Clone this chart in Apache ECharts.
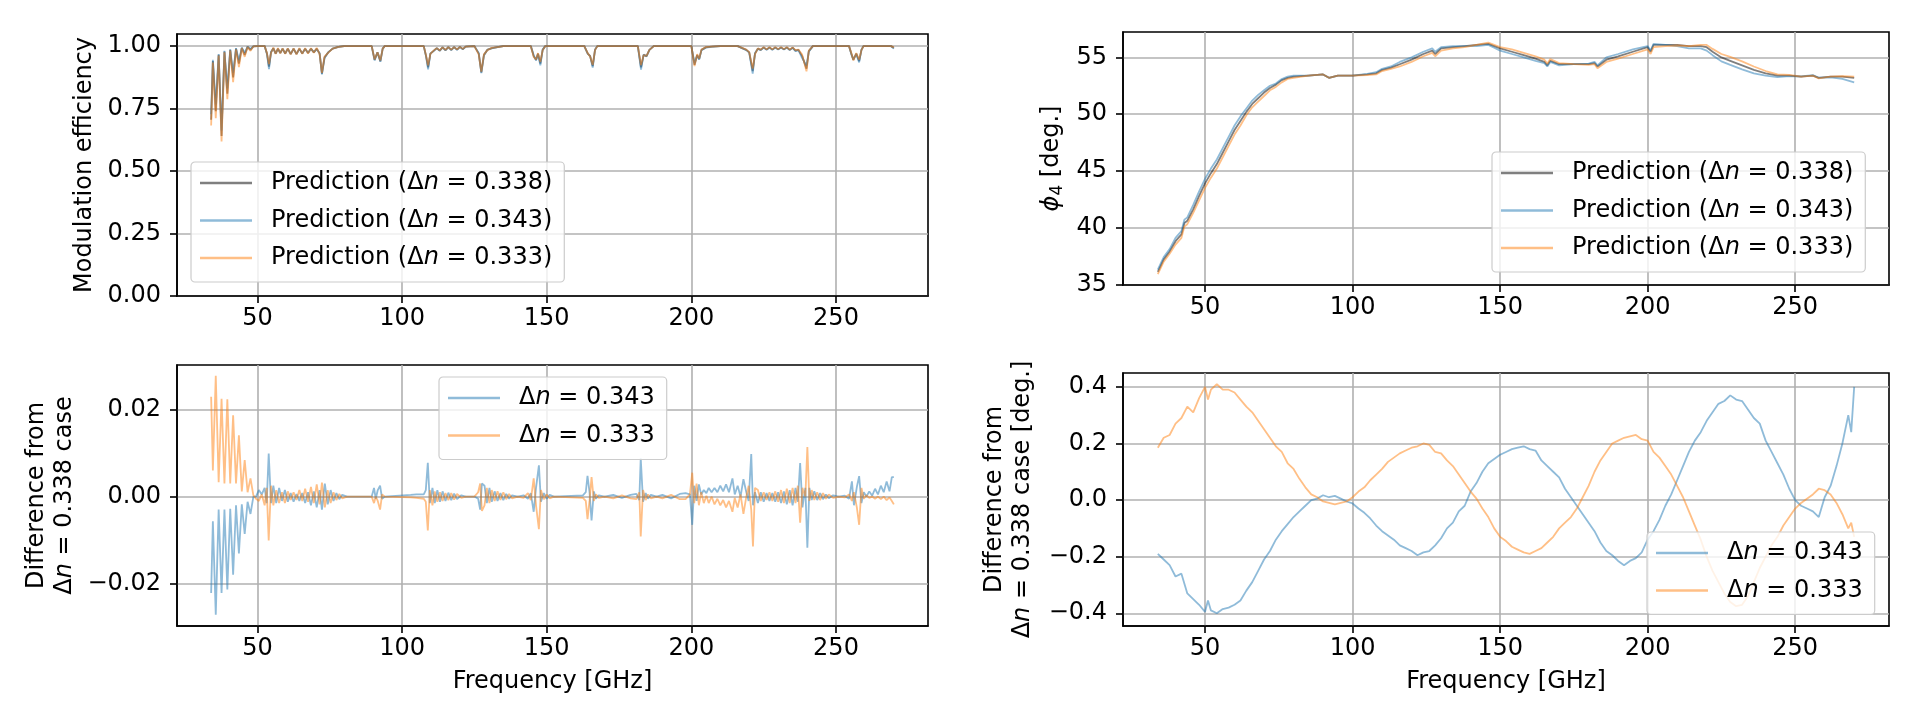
<!DOCTYPE html>
<html>
<head>
<meta charset="utf-8">
<script src="https://cdn.jsdelivr.net/npm/echarts@6/dist/echarts.min.js"></script>
<style>html,body{margin:0;padding:0;background:#fff}#chart{width:1921px;height:721px}</style>
</head>
<body>
<div id="chart"></div>
<script>
// modulation efficiency, top left
const tlFreq = [
  34, 34.6, 35.6, 36.6, 37.6, 38.6, 39.6, 40.6, 41.6, 42.6,
  43.6, 44.6, 45.6, 46.6, 47.6, 48.6, 50, 52.5, 53.3, 54,
  54.7, 55.5, 56.3, 57.1, 57.9, 58.7, 59.6, 60.5, 61.5, 62.5,
  63.5, 64.5, 65.5, 66.5, 67.5, 68.5, 69.5, 70.5, 71.5, 72.3,
  73.2, 74.5, 76, 78, 80, 89.5, 90.5, 91.5, 92.5, 93.3,
  94, 107.5, 108.3, 109, 109.8, 110.8, 112, 113, 114, 115,
  116, 117, 118, 119, 120, 121, 122, 125, 126.5, 127.4,
  128.3, 129.5, 131, 133, 135, 144.5, 145.5, 146.3, 147, 147.8,
  148.6, 149.5, 163, 164.2, 165, 165.9, 166.7, 167.5, 181.5, 182.6,
  183.5, 184.5, 185.5, 187, 200, 201.1, 202, 202.7, 203.5, 205,
  207, 210, 216, 218, 219, 220, 221.2, 222, 223, 224,
  225, 226, 227, 228, 229, 230, 231, 232, 233, 234,
  235, 236, 237, 238.3, 239.8, 240.6, 242, 254.5, 255.3, 256,
  257, 258, 258.8, 259.5, 269, 270
];
const tlEff338 = [
  0.705, 0.94, 0.74, 0.965, 0.64, 0.978, 0.81, 0.985, 0.875, 0.99,
  0.93, 0.993, 0.965, 0.997, 0.985, 0.999, 1, 1, 0.97, 0.918,
  0.975, 0.992, 0.97, 0.99, 0.972, 0.99, 0.97, 0.99, 0.968, 0.99,
  0.968, 0.99, 0.97, 0.99, 0.972, 0.99, 0.975, 0.99, 0.97, 0.89,
  0.955, 0.975, 0.99, 0.997, 1, 1, 0.945, 0.975, 0.94, 0.99,
  1, 1, 0.96, 0.915, 0.97, 0.98, 0.992, 0.982, 0.995, 0.984,
  0.996, 0.985, 0.996, 0.986, 0.997, 0.988, 0.998, 1, 0.97, 0.895,
  0.965, 0.985, 0.992, 0.996, 1, 1, 0.96, 0.945, 0.97, 0.93,
  0.985, 1, 1, 0.97, 0.96, 0.92, 0.985, 1, 1, 0.915,
  0.965, 0.96, 0.985, 1, 1, 0.925, 0.965, 0.948, 0.985, 0.995,
  0.998, 1, 1, 0.99, 0.985, 0.975, 0.9, 0.97, 0.99, 0.985,
  0.995, 0.986, 0.995, 0.986, 0.995, 0.987, 0.995, 0.987, 0.995, 0.985,
  0.994, 0.982, 0.985, 0.96, 0.91, 0.98, 1, 1, 0.97, 0.945,
  0.97, 0.94, 0.985, 1, 1, 0.993
];
const tlEff343 = [
  0.727, 0.945, 0.767, 0.968, 0.662, 0.981, 0.831, 0.987, 0.893, 0.992,
  0.943, 0.994, 0.974, 0.998, 0.989, 0.999, 1, 1, 0.968, 0.908,
  0.977, 0.99, 0.971, 0.988, 0.973, 0.989, 0.971, 0.989, 0.969, 0.989,
  0.969, 0.988, 0.971, 0.988, 0.974, 0.988, 0.977, 0.987, 0.972, 0.887,
  0.952, 0.976, 0.99, 0.997, 1, 1, 0.943, 0.975, 0.937, 0.99,
  1, 1, 0.958, 0.907, 0.971, 0.979, 0.992, 0.981, 0.995, 0.983,
  0.996, 0.984, 0.996, 0.985, 0.997, 0.987, 0.998, 1, 0.973, 0.892,
  0.962, 0.986, 0.991, 0.996, 1, 1, 0.964, 0.943, 0.968, 0.923,
  0.986, 1, 1, 0.969, 0.961, 0.914, 0.986, 1, 1, 0.906,
  0.966, 0.959, 0.985, 1, 1, 0.932, 0.962, 0.946, 0.984, 0.994,
  0.997, 1, 1, 0.989, 0.984, 0.974, 0.89, 0.972, 0.989, 0.984,
  0.994, 0.985, 0.994, 0.985, 0.994, 0.986, 0.994, 0.986, 0.994, 0.984,
  0.993, 0.98, 0.984, 0.952, 0.922, 0.978, 1, 1, 0.967, 0.947,
  0.968, 0.935, 0.986, 1, 1, 0.99
];
const tlEff333 = [
  0.682, 0.934, 0.712, 0.962, 0.618, 0.975, 0.788, 0.982, 0.856, 0.987,
  0.916, 0.992, 0.957, 0.996, 0.981, 0.999, 1, 1, 0.972, 0.928,
  0.973, 0.994, 0.969, 0.992, 0.971, 0.991, 0.969, 0.991, 0.967, 0.991,
  0.967, 0.992, 0.969, 0.992, 0.97, 0.992, 0.973, 0.993, 0.968, 0.893,
  0.958, 0.974, 0.99, 0.997, 1, 1, 0.947, 0.975, 0.943, 0.99,
  1, 1, 0.962, 0.923, 0.969, 0.981, 0.992, 0.983, 0.995, 0.985,
  0.996, 0.986, 0.996, 0.987, 0.997, 0.989, 0.998, 1, 0.967, 0.898,
  0.967, 0.984, 0.993, 0.996, 1, 1, 0.956, 0.947, 0.972, 0.937,
  0.984, 1, 1, 0.971, 0.959, 0.925, 0.984, 1, 1, 0.924,
  0.964, 0.961, 0.985, 1, 1, 0.92, 0.968, 0.95, 0.986, 0.996,
  0.998, 1, 1, 0.991, 0.986, 0.976, 0.91, 0.968, 0.991, 0.986,
  0.996, 0.987, 0.996, 0.987, 0.996, 0.988, 0.996, 0.988, 0.996, 0.986,
  0.995, 0.984, 0.986, 0.966, 0.899, 0.982, 1, 1, 0.972, 0.943,
  0.972, 0.946, 0.984, 1, 1, 0.995
];

// phi4, top right
const trFreq = [
  34, 36, 38, 40, 42, 43, 44, 46, 48, 50,
  52, 54, 56, 58, 60, 62, 64, 66, 68, 70,
  72, 74, 76, 78, 80, 85, 90, 92, 95, 100,
  105, 108, 110, 113, 116, 120, 124, 127, 128, 130,
  134, 138, 142, 146, 148, 150, 154, 158, 162, 165,
  166, 167, 170, 175, 180, 182, 183, 186, 190, 195,
  200, 201, 202, 206, 210, 214, 218, 220, 222, 225,
  228, 232, 236, 240, 244, 248, 252, 256, 258, 262,
  266, 270
];
const trPhi338 = [
  36.1, 37.2, 37.9, 38.8, 39.4, 40.4, 40.6, 41.6, 42.8, 43.9,
  44.8, 45.6, 46.6, 47.6, 48.6, 49.4, 50.2, 50.9, 51.4, 51.9,
  52.3, 52.6, 53.0, 53.2, 53.3, 53.4, 53.5, 53.2, 53.4, 53.4,
  53.5, 53.6, 53.9, 54.1, 54.4, 54.8, 55.3, 55.6, 55.3, 55.8,
  55.9, 56.0, 56.1, 56.2, 56.0, 55.8, 55.5, 55.2, 54.9, 54.6,
  54.3, 54.7, 54.4, 54.4, 54.4, 54.5, 54.2, 54.8, 55.1, 55.5,
  55.9, 55.5, 56.1, 56.1, 56.1, 56.0, 56.0, 55.9, 55.5, 55.0,
  54.7, 54.3, 53.9, 53.6, 53.4, 53.4, 53.3, 53.4, 53.2, 53.3,
  53.3, 53.2
];
const trPhi343 = [
  36.3, 37.4, 38.1, 39.1, 39.7, 40.7, 40.9, 42.0, 43.2, 44.3,
  45.2, 46.0, 47.0, 48.0, 49.0, 49.8, 50.5, 51.2, 51.7, 52.1,
  52.5, 52.7, 53.1, 53.3, 53.4, 53.4, 53.5, 53.2, 53.4, 53.4,
  53.55, 53.7, 54.0, 54.2, 54.6, 55.0, 55.5, 55.8, 55.5, 55.9,
  56.0, 56.0, 56.0, 56.1, 55.85, 55.6, 55.3, 55.0, 54.7, 54.5,
  54.2, 54.6, 54.3, 54.4, 54.45, 54.6, 54.3, 55.0, 55.3, 55.7,
  56.0, 55.6, 56.2, 56.1, 56.0, 55.8, 55.8, 55.6, 55.2, 54.65,
  54.34, 53.95, 53.6, 53.4, 53.27, 53.36, 53.32, 53.44, 53.21, 53.24,
  53.1, 52.8
];
const trPhi333 = [
  35.9, 37.0, 37.7, 38.5, 39.1, 40.1, 40.3, 41.3, 42.4, 43.5,
  44.4, 45.2, 46.2, 47.2, 48.2, 49.0, 49.9, 50.6, 51.1, 51.6,
  52.1, 52.4, 52.8, 53.1, 53.2, 53.4, 53.5, 53.2, 53.4, 53.4,
  53.45, 53.5, 53.8, 54.0, 54.2, 54.6, 55.1, 55.4, 55.1, 55.6,
  55.8, 55.9, 56.1, 56.3, 56.1, 55.9, 55.7, 55.4, 55.1, 54.8,
  54.45, 54.85, 54.5, 54.4, 54.35, 54.4, 54.05, 54.6, 54.9, 55.3,
  55.7, 55.3, 55.9, 56.0, 56.05, 56.0, 56.1, 56.1, 55.75, 55.3,
  55.05, 54.65, 54.2, 53.8, 53.5, 53.45, 53.3, 53.4, 53.15, 53.3,
  53.35, 53.3
];

// efficiency difference, bottom left
const blFreq = [
  34, 34.6, 35.6, 36.6, 37.6, 38.6, 39.6, 40.6, 41.6, 42.6,
  43.6, 44.6, 45.6, 46.6, 47.6, 48.6, 49.5, 50.5, 51.5, 52.5,
  53.2, 53.9, 54.7, 55.5, 56.5, 57.5, 58.5, 59.5, 60.5, 61.5,
  62.5, 63.5, 64.5, 65.5, 66.5, 67.5, 68.5, 69.5, 70.5, 71.5,
  72.3, 73.3, 74.3, 75.3, 76.3, 77.3, 78.3, 79.3, 81, 89.5,
  90.3, 90.9, 91.6, 92.4, 93.1, 94, 103, 105, 107.5, 108.2,
  108.9, 109.6, 110.5, 111.3, 112.2, 113.1, 114, 115, 116, 117,
  118, 119, 120.5, 122, 125, 126.3, 127, 127.6, 128.5, 129.3,
  130.2, 131, 132, 133, 134, 135, 136, 137, 138, 140,
  142, 143.5, 144.5, 145.5, 146.3, 147.3, 148, 149, 150, 151,
  152.5, 162.5, 163.5, 164.1, 164.8, 165.5, 166.3, 167, 168, 170,
  173, 176, 179, 181, 182, 182.5, 183.3, 184.2, 185, 186,
  188, 190, 193, 196, 198, 199.5, 200.3, 201, 201.8, 202.6,
  203.4, 204.3, 205.2, 206, 207, 208, 209, 210, 211, 212,
  213, 214.2, 215, 216, 217, 218, 219, 219.8, 220.7, 221.3,
  222, 223, 224, 225, 226, 227, 228, 229, 230, 231,
  232, 233, 234, 235, 236, 236.8, 237.6, 238.4, 239.4, 240.1,
  240.8, 241.6, 242.5, 243.5, 244.5, 245.5, 246.5, 247.5, 249, 251,
  253, 254.5, 255.5, 256.2, 257.2, 258, 258.8, 259.6, 260.5, 261.5,
  262.5, 263.5, 264.5, 265.5, 266.5, 267.5, 268.5, 269.3, 270
];
const blDiff343 = [
  -0.0222, -0.0057, -0.0272, -0.003, -0.0222, -0.003, -0.0214, -0.0028, -0.018, -0.002,
  -0.0131, -0.0018, -0.0086, -0.0012, -0.004, 0, 0, 0.0015, 0.0005, 0.002,
  -0.0015, 0.0099, -0.0015, 0.0025, -0.0015, 0.002, -0.001, 0.0015, -0.0012, 0.0008,
  -0.0012, 0.0006, -0.001, 0.0008, -0.0015, 0.001, -0.002, 0.0012, -0.0025, 0.0015,
  -0.003, 0.003, -0.0018, 0.0015, -0.001, 0.0008, -0.0006, 0.0004, 0, 0,
  0.002, -0.0005, 0.0015, 0.0025, -0.0005, 0, 0.0004, 0.0005, 0.0005, 0.0015,
  0.0078, -0.0015, 0.002, -0.0015, 0.0015, -0.0012, 0.0012, -0.001, 0.0009, -0.0008,
  0.0007, -0.0006, 0.0003, 0, 0, -0.0005, -0.003, 0.003, 0.0025, -0.0015,
  0.002, -0.0012, 0.0012, -0.001, 0.0008, -0.0008, 0.0006, -0.0005, 0.0003, 0,
  0.0003, -0.0005, 0.0008, -0.0035, 0.002, 0.0072, -0.0012, 0.0008, -0.0005, 0.0004,
  0, 0.0003, 0.001, 0.0048, 0.001, -0.0055, 0.0012, -0.0005, 0.0003, 0,
  0.0004, -0.0003, 0.0004, 0.0006, -0.0008, 0.0088, -0.0012, 0.0008, -0.0005, 0.0004,
  0, 0.0004, -0.0004, 0.0006, 0.0008, 0.0005, -0.0065, 0.0025, -0.001, 0.0028,
  0.0005, 0.0015, 0.0008, 0.002, 0.001, 0.002, 0.001, 0.0025, 0.0012, 0.0028,
  0.001, 0.0042, 0.0005, 0.0025, 0, 0.004, 0.001, -0.001, 0.0098, -0.002,
  0.001, -0.0015, 0.001, -0.0012, 0.0008, -0.001, 0.0008, -0.0012, 0.001, -0.0015,
  0.0012, -0.0018, 0.0015, -0.002, 0.002, -0.0012, 0.0077, -0.0025, 0.002, -0.0118,
  0.002, -0.0008, 0.0012, -0.0008, 0.0008, -0.0006, 0.0005, -0.0004, 0.0003, 0,
  0.0002, -0.0005, 0.0035, -0.002, 0.0022, 0.0047, -0.0015, 0.001, 0, 0.0012,
  0.0002, 0.0018, 0.0005, 0.0025, 0.001, 0.0035, 0.0012, 0.0045, 0.0045
];
const blDiff333 = [
  0.023, 0.006, 0.0278, 0.0033, 0.0225, 0.003, 0.0224, 0.003, 0.0187, 0.003,
  0.0141, 0.0012, 0.0084, 0.001, 0.0042, 0.0003, -0.0005, -0.001, 0.0005, -0.002,
  0.002, -0.0101, 0.0025, -0.002, 0.0015, -0.0015, 0.001, -0.0015, 0.0012, -0.0008,
  0.001, -0.0008, 0.0015, -0.001, 0.0018, -0.0012, 0.0022, -0.0015, 0.0028, -0.0018,
  0.0032, -0.0025, 0.0015, -0.0015, 0.001, -0.0008, 0.0006, -0.0004, 0, 0,
  -0.0015, 0, -0.001, -0.003, 0.0005, 0, -0.0002, -0.0003, -0.0005, -0.0012,
  -0.0078, 0.0015, -0.002, 0.0012, -0.0012, 0.001, -0.001, 0.0008, -0.0008, 0.0008,
  -0.0007, 0.0006, -0.0003, 0, 0, 0.001, 0.003, -0.0033, -0.002, 0.002,
  -0.0015, 0.0015, -0.001, 0.0012, -0.0008, 0.001, -0.0006, 0.0006, -0.0004, 0,
  -0.0003, 0.0008, -0.0008, 0.0042, -0.002, -0.0075, 0.0015, -0.0006, 0.0005, -0.0004,
  0, -0.0003, -0.001, -0.0052, -0.001, 0.0045, -0.001, 0.0005, -0.0003, 0,
  -0.0004, 0.0003, -0.0004, -0.0006, 0.001, -0.0092, 0.0015, -0.0008, 0.0005, -0.0004,
  0, -0.0004, 0.0004, -0.0006, -0.0006, 0.0005, 0.0055, -0.0015, 0.003, -0.002,
  0.001, -0.0015, 0.0002, -0.0015, 0, -0.0018, -0.0005, -0.002, -0.0008, -0.0025,
  -0.001, -0.0035, -0.0003, -0.0025, 0.0005, -0.004, 0, 0.0025, -0.003, -0.0115,
  0.002, 0.0015, -0.001, 0.001, -0.0008, 0.001, -0.001, 0.0012, -0.0012, 0.0015,
  -0.0015, 0.0018, -0.0015, 0.002, -0.0015, 0.0025, -0.006, 0.002, 0, 0.0114,
  -0.001, 0.0015, -0.0008, 0.001, -0.0008, 0.0008, -0.0005, 0.0005, -0.0003, 0,
  -0.0002, 0.0005, -0.001, 0.001, -0.0025, -0.0065, 0.002, -0.0005, 0.0003, -0.0003,
  0, -0.0005, 0, -0.0006, 0, -0.0008, -0.0002, -0.001, -0.0018
];

// phi4 difference, bottom right
const brFreq = [
  34, 36, 38, 40, 42, 44, 46, 48, 50, 51,
  52, 54, 56, 58, 60, 62, 64, 66, 68, 70,
  72, 74, 76, 78, 80, 82, 84, 86, 88, 90,
  92, 94, 96, 98, 100, 102, 104, 106, 108, 110,
  112, 114, 116, 118, 120, 122, 124, 126, 128, 130,
  132, 134, 136, 138, 140, 142, 144, 146, 148, 150,
  152, 154, 156, 158, 160, 162, 164, 166, 168, 170,
  172, 174, 176, 178, 180, 182, 184, 186, 188, 190,
  192, 194, 196, 198, 200, 202, 204, 206, 208, 210,
  212, 214, 216, 218, 220, 222, 224, 226, 228, 230,
  232, 234, 236, 238, 240, 242, 244, 246, 248, 250,
  252, 254, 256, 258, 260, 262, 264, 266, 268, 269,
  270
];
const brDiff343 = [
  -0.19, -0.21, -0.23, -0.27, -0.26, -0.33, -0.35, -0.37, -0.395, -0.355,
  -0.39, -0.40, -0.385, -0.38, -0.37, -0.355, -0.32, -0.29, -0.25, -0.21,
  -0.18, -0.14, -0.11, -0.085, -0.06, -0.04, -0.02, 0, 0.005, 0.017,
  0.01, 0.015, 0.005, -0.005, -0.012, -0.03, -0.045, -0.065, -0.09, -0.11,
  -0.125, -0.14, -0.16, -0.17, -0.18, -0.195, -0.185, -0.18, -0.16, -0.135,
  -0.10, -0.08, -0.04, -0.02, 0.03, 0.06, 0.10, 0.13, 0.145, 0.16,
  0.17, 0.18, 0.185, 0.19, 0.18, 0.175, 0.14, 0.12, 0.10, 0.08,
  0.04, 0.01, -0.02, -0.05, -0.08, -0.11, -0.15, -0.18, -0.195, -0.215,
  -0.23, -0.215, -0.205, -0.185, -0.14, -0.11, -0.07, -0.02, 0.02, 0.07,
  0.12, 0.17, 0.21, 0.24, 0.28, 0.31, 0.34, 0.35, 0.37, 0.355,
  0.35, 0.32, 0.29, 0.27, 0.21, 0.17, 0.13, 0.09, 0.04, 0.0,
  -0.02, -0.03, -0.04, -0.06, 0.01, 0.05, 0.12, 0.20, 0.30, 0.24,
  0.40
];
const brDiff333 = [
  0.185, 0.22, 0.23, 0.27, 0.29, 0.33, 0.31, 0.36, 0.40, 0.355,
  0.39, 0.41, 0.39, 0.39, 0.38, 0.355, 0.33, 0.31, 0.28, 0.25,
  0.22, 0.19, 0.17, 0.13, 0.11, 0.075, 0.045, 0.02, 0.01, -0.005,
  -0.01, -0.015, -0.01, -0.005, 0.01, 0.03, 0.045, 0.07, 0.09, 0.11,
  0.135, 0.15, 0.165, 0.175, 0.185, 0.19, 0.20, 0.195, 0.17, 0.165,
  0.14, 0.12, 0.09, 0.06, 0.03, 0.005, -0.03, -0.06, -0.10, -0.13,
  -0.145, -0.165, -0.175, -0.185, -0.19, -0.18, -0.17, -0.15, -0.13, -0.10,
  -0.08, -0.06, -0.03, 0.01, 0.05, 0.10, 0.14, 0.17, 0.20, 0.21,
  0.22, 0.225, 0.23, 0.215, 0.21, 0.17, 0.15, 0.12, 0.09, 0.05,
  0.01, -0.04, -0.09, -0.14, -0.2, -0.25, -0.29, -0.33, -0.36, -0.375,
  -0.37, -0.34, -0.29, -0.24, -0.2, -0.16, -0.13, -0.09, -0.06, -0.03,
  -0.01, 0.005, 0.02, 0.04, 0.035, 0.02, -0.01, -0.05, -0.10, -0.08,
  -0.13
];

const freqTicks = [50, 100, 150, 200, 250];
const predNames = ['Prediction (Δn = 0.338)', 'Prediction (Δn = 0.343)', 'Prediction (Δn = 0.333)'];
const diffNames = ['Δn = 0.343', 'Δn = 0.333'];

const FONT = 'DejaVu Sans';
const FS = 24;
const GRAY = 'rgba(0,0,0,0.5)';
const BLUE = 'rgba(31,119,180,0.5)';
const ORANGE = 'rgba(255,127,14,0.5)';

const pairs = (xs, ys) => xs.map((x, i) => [x, ys[i]]);
const fmt = d => v => (v < -1e-9 ? '\u2212' : '') + Math.abs(v).toFixed(d);

const rich = {
  i: { fontStyle: 'italic', fontFamily: FONT, fontSize: FS, lineHeight: 28 },
  p: { fontStyle: 'italic', fontFamily: FONT, fontSize: FS, lineHeight: 28 },
  s: { fontFamily: FONT, fontSize: 17, lineHeight: 28, verticalAlign: 'bottom', padding: [10, 0, 0, 0] }
};

const grids = [
  { left: 177, top: 34, width: 751, height: 262 },
  { left: 1123, top: 32, width: 766, height: 253 },
  { left: 177, top: 365, width: 751, height: 261 },
  { left: 1123, top: 373, width: 766, height: 253 }
].map(g => Object.assign(g, { show: true, borderColor: '#000', borderWidth: 1.6, backgroundColor: 'transparent' }));

function xAxis(i, withName) {
  return {
    type: 'value', gridIndex: i, min: 22.2, max: 281.8,
    name: withName ? 'Frequency [GHz]' : '', nameLocation: 'middle', nameGap: 44,
    nameTextStyle: { fontFamily: FONT, fontSize: FS, color: '#000' },
    axisLine: { onZero: false, lineStyle: { color: '#000', width: 1.6 } },
    axisTick: { customValues: freqTicks, length: 7, lineStyle: { color: '#000', width: 1.6 } },
    axisLabel: { customValues: freqTicks, margin: 11, fontFamily: FONT, fontSize: FS, color: '#000' },
    splitLine: { show: true, lineStyle: { color: '#b0b0b0', width: 1.6 } }
  };
}

function yAxis(i, min, max, ticks, dec, name, gap) {
  return {
    type: 'value', gridIndex: i, min, max,
    name, nameLocation: 'middle', nameGap: gap, nameRotate: 90,
    nameTextStyle: { fontFamily: FONT, fontSize: FS, color: '#000', lineHeight: 28, align: 'center', rich },
    axisLine: { onZero: false, lineStyle: { color: '#000', width: 1.6 } },
    axisTick: { customValues: ticks, length: 7, lineStyle: { color: '#000', width: 1.6 } },
    axisLabel: { customValues: ticks, margin: 16, fontFamily: FONT, fontSize: FS, color: '#000', formatter: fmt(dec) },
    splitLine: { show: true, lineStyle: { color: '#b0b0b0', width: 1.6 } }
  };
}

function line(name, color, i, data) {
  return {
    name, type: 'line', xAxisIndex: i, yAxisIndex: i, data,
    symbol: 'none', lineStyle: { color, width: 1.8 }, itemStyle: { color },
    animation: false, silent: true
  };
}

function legend(left, top, names) {
  return {
    left, top, orient: 'vertical', data: names, selectedMode: false,
    icon: 'rect', itemWidth: 52, itemHeight: 2.5, itemGap: 11.5,
    padding: [8, 12, 11, 9],
    backgroundColor: 'rgba(255,255,255,0.8)', borderColor: '#cccccc', borderWidth: 1.2, borderRadius: 4,
    formatter: n => n.replace('Δn', 'Δ{i|n}'),
    textStyle: { fontFamily: FONT, fontSize: FS, color: '#000', lineHeight: 26, padding: [0, 0, 0, 14],
      rich: { i: { fontStyle: 'italic', fontFamily: FONT, fontSize: FS, lineHeight: 26 } } }
  };
}

const chart = echarts.init(document.getElementById('chart'), null, { renderer: 'canvas' });
chart.setOption({
  animation: false,
  backgroundColor: '#fff',
  grid: grids,
  xAxis: [xAxis(0, false), xAxis(1, false), xAxis(2, true), xAxis(3, true)],
  yAxis: [
    yAxis(0, 0, 1.0485, [0, 0.25, 0.5, 0.75, 1], 2, 'Modulation efficiency', 78),
    yAxis(1, 34.94, 57.24, [35, 40, 45, 50, 55], 0, '{p|ϕ}{s|4} [deg.]', 57),
    yAxis(2, -0.0298, 0.0303, [-0.02, 0, 0.02], 2, 'Difference from\nΔ{i|n} = 0.338 case', 98),
    yAxis(3, -0.445, 0.449, [-0.4, -0.2, 0, 0.2, 0.4], 1, 'Difference from\nΔ{i|n} = 0.338 case [deg.]', 86)
  ],
  legend: [
    legend(191, 162, predNames),
    legend(1492, 152, predNames),
    legend(439, 377, diffNames),
    legend(1647, 532, diffNames)
  ],
  series: [
    line(predNames[0], GRAY, 0, pairs(tlFreq, tlEff338)),
    line(predNames[1], BLUE, 0, pairs(tlFreq, tlEff343)),
    line(predNames[2], ORANGE, 0, pairs(tlFreq, tlEff333)),
    line(predNames[0], GRAY, 1, pairs(trFreq, trPhi338)),
    line(predNames[1], BLUE, 1, pairs(trFreq, trPhi343)),
    line(predNames[2], ORANGE, 1, pairs(trFreq, trPhi333)),
    line(diffNames[0], BLUE, 2, pairs(blFreq, blDiff343)),
    line(diffNames[1], ORANGE, 2, pairs(blFreq, blDiff333)),
    line(diffNames[0], BLUE, 3, pairs(brFreq, brDiff343)),
    line(diffNames[1], ORANGE, 3, pairs(brFreq, brDiff333))
  ]
});
</script>
</body>
</html>
